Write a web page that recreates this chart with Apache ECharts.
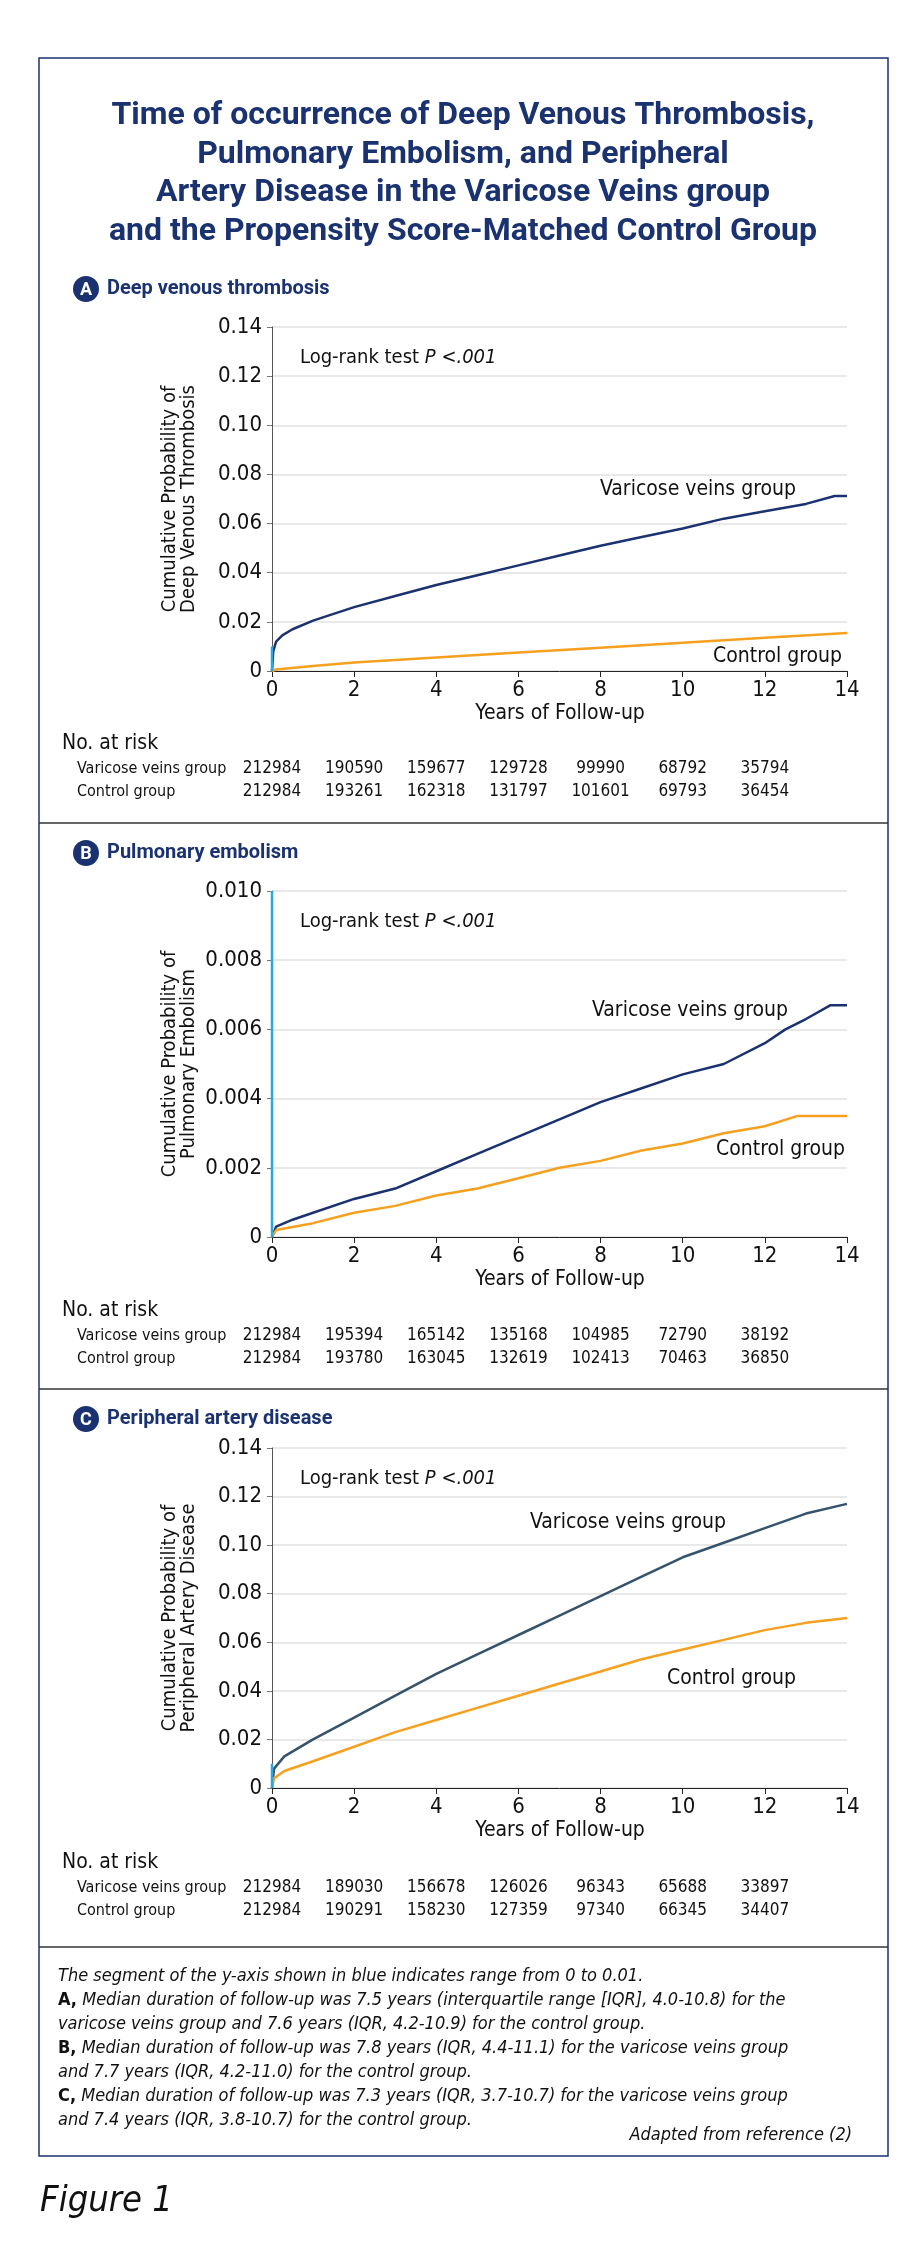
<!DOCTYPE html>
<html><head><meta charset="utf-8">
<script src="https://cdn.jsdelivr.net/npm/echarts@6/dist/echarts.min.js"></script>
<style>html,body{margin:0;padding:0;background:#fff}#c{width:924px;height:2265px}</style>
</head><body><div id="c"></div>
<script>
const xTicks = [0,2,4,6,8,10,12,14];
const aVaricose = [[0,0],[0.03,0.008],[0.1,0.012],[0.25,0.0145],[0.5,0.017],[1,0.0205],[2,0.026],[3,0.0305],[4,0.035],[5,0.039],[6,0.043],[7,0.047],[8,0.051],[9,0.0545],[10,0.058],[11,0.062],[12,0.065],[13,0.068],[13.7,0.0712],[14,0.0712]];
const aControl = [[0,0],[0.1,0.0006],[1,0.002],[2,0.0035],[4,0.0055],[6,0.0075],[8,0.0095],[10,0.0115],[12,0.0135],[14,0.0155]];
const bVaricose = [[0,0],[0.1,0.0003],[0.5,0.0005],[1,0.0007],[2,0.0011],[3,0.0014],[4,0.0019],[5,0.0024],[6,0.0029],[7,0.0034],[8,0.0039],[9,0.0043],[10,0.0047],[11,0.005],[12,0.0056],[12.5,0.006],[13,0.0063],[13.6,0.0067],[14,0.0067]];
const bControl = [[0,0],[0.1,0.0002],[1,0.0004],[2,0.0007],[3,0.0009],[4,0.0012],[5,0.0014],[6,0.0017],[7,0.002],[8,0.0022],[9,0.0025],[10,0.0027],[11,0.003],[12,0.0032],[12.8,0.0035],[14,0.0035]];
const cVaricose = [[0,0],[0.05,0.008],[0.3,0.013],[1,0.02],[2,0.029],[3,0.038],[4,0.047],[5,0.055],[6,0.063],[7,0.071],[8,0.079],[9,0.087],[10,0.095],[11,0.101],[12,0.107],[13,0.113],[14,0.117]];
const cControl = [[0,0],[0.05,0.004],[0.3,0.007],[1,0.011],[2,0.017],[3,0.023],[4,0.028],[5,0.033],[6,0.038],[7,0.043],[8,0.048],[9,0.053],[10,0.057],[11,0.061],[12,0.065],[13,0.068],[14,0.07]];
const riskA = [[212984,190590,159677,129728,99990,68792,35794],[212984,193261,162318,131797,101601,69793,36454]];
const riskB = [[212984,195394,165142,135168,104985,72790,38192],[212984,193780,163045,132619,102413,70463,36850]];
const riskC = [[212984,189030,156678,126026,96343,65688,33897],[212984,190291,158230,127359,97340,66345,34407]];

const NAVY='#1b3270', ORANGE='#f6a01f', LBLUE='#2aa6e0';
const FONT='"DejaVu Sans Condensed","Liberation Sans",sans-serif';
const grids=[{top:327,h:344,max:0.14,int:0.02,dec:2,lab:['Cumulative Probability of','Deep Venous Thrombosis']},
             {top:891,h:346,max:0.01,int:0.002,dec:3,lab:['Cumulative Probability of','Pulmonary Embolism']},
             {top:1448,h:340,max:0.14,int:0.02,dec:2,lab:['Cumulative Probability of','Peripheral Artery Disease']}];
const L=272,W=575;
const chart=echarts.init(document.getElementById('c'),null,{renderer:'canvas'});
const option={animation:false,grid:[],xAxis:[],yAxis:[],series:[],graphic:[]};
grids.forEach((g,i)=>{
  option.grid.push({left:L,width:W,top:g.top,height:g.h});
  option.xAxis.push({gridIndex:i,type:'value',min:0,max:14,interval:2,
    axisLine:{lineStyle:{color:'#222'}},axisTick:{length:6,lineStyle:{color:'#222'}},splitLine:{show:false},
    axisLabel:{color:'#111',fontSize:22,fontFamily:FONT,margin:8}});
  option.yAxis.push({gridIndex:i,type:'value',min:0,max:g.max,interval:g.int,
    axisLine:{show:true,lineStyle:{color:i==1?LBLUE:'#555'}},axisTick:{show:true,length:5,lineStyle:{color:'#777'}},
    splitLine:{lineStyle:{color:'#e2e2e2',width:1.5}},
    axisLabel:{color:'#111',fontSize:22,fontFamily:FONT,margin:10,formatter:v=>v===0?'0':v.toFixed(g.dec)}});
  option.series.push({type:'line',xAxisIndex:i,yAxisIndex:i,data:[[0,0],[0,0.01]],showSymbol:false,lineStyle:{color:LBLUE,width:2.5},z:5});
});
const sv=[aVaricose,bVaricose,cVaricose], sc=[aControl,bControl,cControl];
sv.forEach((d,i)=>option.series.push({type:'line',xAxisIndex:i,yAxisIndex:i,data:d,showSymbol:false,lineStyle:{color:i==2?'#35546c':NAVY,width:2.5}}));
sc.forEach((d,i)=>option.series.push({type:'line',xAxisIndex:i,yAxisIndex:i,data:d,showSymbol:false,lineStyle:{color:ORANGE,width:2.5}}));

const G=option.graphic;
const T=(x,y,text,o={})=>G.push({type:'text',x,y,style:Object.assign({text,fill:'#111',font:'20px '+FONT,textVerticalAlign:'middle'},o)});
G.push({type:'rect',shape:{x:39,y:58,width:849,height:2098},style:{fill:'none',stroke:NAVY,lineWidth:1.5}});
[823,1389,1947].forEach(y=>G.push({type:'line',shape:{x1:39,y1:y,x2:888,y2:y},style:{stroke:'#333',lineWidth:1.5}}));
['Time of occurrence of Deep Venous Thrombosis,','Pulmonary Embolism, and Peripheral','Artery Disease in the Varicose Veins group','and the Propensity Score-Matched Control Group']
 .forEach((t,k)=>T(463,116+k*38.5,t,{fill:NAVY,font:'bold 32px Roboto,sans-serif',textAlign:'center'}));
const panels=[['A','Deep venous thrombosis',289],['B','Pulmonary embolism',853],['C','Peripheral artery disease',1419]];
panels.forEach(p=>{
  G.push({type:'circle',shape:{cx:86,cy:p[2],r:13},style:{fill:NAVY}});
  T(86,p[2]+1,p[0],{fill:'#fff',font:'bold 18px Roboto,sans-serif',textAlign:'center'});
  T(107,p[2],p[1],{fill:NAVY,font:'bold 20px Roboto,sans-serif'});
});
grids.forEach((g,i)=>{
  const cy=g.top+g.h/2;
  g.lab.forEach((t,k)=>G.push({type:'text',x:170+k*19,y:cy,rotation:Math.PI/2,style:{text:t,fill:'#111',font:'20px '+FONT,textAlign:'center',textVerticalAlign:'middle'}}));
  G.push({type:'text',x:300,y:g.top+31,style:{rich:{n:{font:'20px '+FONT,fill:'#111'},i:{font:'italic 20px '+FONT,fill:'#111'}},text:'{n|Log-rank test }{i|P <.001}',textVerticalAlign:'middle'}});
  T(560,g.top+g.h+43,'Years of Follow-up',{textAlign:'center',font:'21px '+FONT});
});
const lab=[[600,490,713,657],[592,1011,716,1150],[530,1523,667,1679]];
lab.forEach(l=>{T(l[0],l[1],'Varicose veins group',{font:'21px '+FONT});T(l[2],l[3],'Control group',{font:'21px '+FONT});});
const risks=[[riskA,744],[riskB,1311],[riskC,1863]];
risks.forEach(r=>{
  T(62,r[1],'No. at risk',{font:'21px '+FONT});
  ['Varicose veins group','Control group'].forEach((n,k)=>{
    const y=r[1]+25+k*23;
    T(77,y,n,{font:'16px '+FONT});
    r[0][k].forEach((v,j)=>T(L+j*2*W/14,y,String(v),{font:'17px '+FONT,textAlign:'center'}));
  });
});
G.push({type:'text',x:58,y:1964,style:{rich:{n:{font:'italic 18px '+FONT,fill:'#111'},b:{font:'bold 18px '+FONT,fill:'#111'}},
  lineHeight:24,textVerticalAlign:'top',
  text:['{n|The segment of the y-axis shown in blue indicates range from 0 to 0.01.}',
  '{b|A,}{n| Median duration of follow-up was 7.5 years (interquartile range [IQR], 4.0-10.8) for the}',
  '{n|varicose veins group and 7.6 years (IQR, 4.2-10.9) for the control group.}',
  '{b|B,}{n| Median duration of follow-up was 7.8 years (IQR, 4.4-11.1) for the varicose veins group}',
  '{n|and 7.7 years (IQR, 4.2-11.0) for the control group.}',
  '{b|C,}{n| Median duration of follow-up was 7.3 years (IQR, 3.7-10.7) for the varicose veins group}',
  '{n|and 7.4 years (IQR, 3.8-10.7) for the control group.}'].join('\n')}});
T(852,2135,'Adapted from reference (2)',{font:'italic 18px '+FONT,textAlign:'right'});
T(40,2202,'Figure 1',{font:'italic 36px '+FONT});
chart.setOption(option);
</script></body></html>
